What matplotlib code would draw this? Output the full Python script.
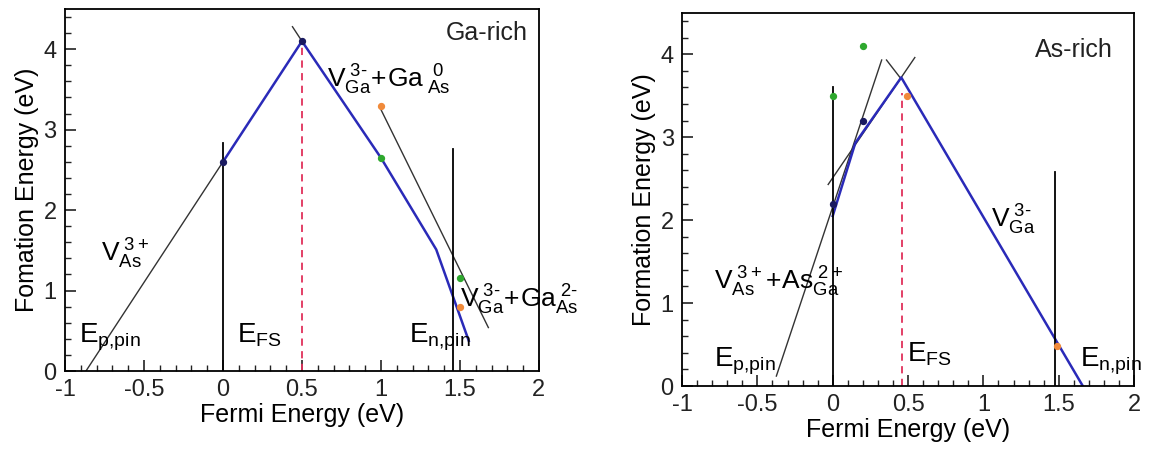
import matplotlib
matplotlib.use("Agg")
import matplotlib.pyplot as plt
from matplotlib.ticker import MultipleLocator

plt.rcParams['font.family'] = ['Liberation Sans', 'DejaVu Sans']
plt.rcParams['mathtext.fontset'] = 'custom'
plt.rcParams['mathtext.rm'] = 'Liberation Sans'
plt.rcParams['mathtext.it'] = 'Liberation Sans'

# ---------------- Ga-rich data ----------------
ga_blue_x = [0.0, 0.5, 1.0, 1.35, 1.556]
ga_blue_y = [2.6, 4.1, 2.65, 1.51, 0.375]
ga_vas_x = [-0.867, 0.0]
ga_vas_y = [0.0, 2.6]
ga_vga_top_x = [0.44, 0.5]
ga_vga_top_y = [4.28, 4.1]
ga_ga0_x = [0.99, 1.68]
ga_ga0_y = [3.29, 0.54]
ga_dark_x = [0.0, 0.5]
ga_dark_y = [2.6, 4.1]
ga_green_x = [1.0, 1.5]
ga_green_y = [2.65, 1.15]
ga_orange_x = [1.0, 1.5]
ga_orange_y = [3.3, 0.8]
ga_vlines_x = [0.0, 1.454]
ga_vlines_top = [2.83, 2.76]
ga_efs_x = 0.5
ga_efs_top = 4.05

# ---------------- As-rich data ----------------
as_blue_x = [0.0, 0.15, 0.455, 1.66]
as_blue_y = [2.05, 2.93, 3.72, 0.0]
as_line1_x = [-0.374, 0.325]
as_line1_y = [0.12, 3.93]
as_line2_x = [-0.03, 0.545]
as_line2_y = [2.43, 3.96]
as_line3_x = [0.357, 0.455]
as_line3_y = [3.93, 3.70]
as_dark_x = [0.0, 0.2]
as_dark_y = [2.2, 3.2]
as_green_x = [0.0, 0.2]
as_green_y = [3.5, 4.1]
as_orange_x = [0.49, 1.49]
as_orange_y = [3.5, 0.48]
as_vlines_x = [0.0, 1.475]
as_vlines_top = [3.6, 2.58]
as_efs_x = 0.46
as_efs_top = 3.53

xticks = [-1, -0.5, 0, 0.5, 1, 1.5, 2]
xticklabels = ['-1', '-0.5', '0', '0.5', '1', '1.5', '2']
yticks = [0, 1, 2, 3, 4]

fig = plt.figure(figsize=(11.56, 4.55), dpi=100)
ax1 = fig.add_axes([0.0562, 0.1846, 0.410, 0.7956])
ax2 = fig.add_axes([0.590, 0.1516, 0.391, 0.8204])

blue = '#2a2ab8'
green = '#2ea82e'
orange = '#f08a3a'
red = '#e0305a'

def style(ax, ylabel):
    ax.set_xlim(-1, 2)
    ax.set_ylim(0, 4.5)
    ax.set_xticks(xticks)
    ax.set_xticklabels(xticklabels)
    ax.set_yticks(yticks)
    ax.xaxis.set_minor_locator(MultipleLocator(0.1))
    ax.yaxis.set_minor_locator(MultipleLocator(0.2))
    ax.tick_params(which='both', direction='in', top=False, right=False, labelsize=17, colors='#222222')
    ax.tick_params(which='major', length=8, width=1.2)
    ax.tick_params(axis='x', which='major', pad=6)
    ax.tick_params(axis='y', which='major', pad=6)
    ax.tick_params(which='minor', length=4, width=1.0)
    for s in ax.spines.values():
        s.set_linewidth(1.3)
    ax.set_xlabel('Fermi Energy (eV)', fontsize=18, labelpad=1)
    ax.set_ylabel(ylabel, fontsize=18, labelpad=3)

H = r'\text{-}'
FS = 19

# ---- Left panel ----
ax = ax1
ax.plot(ga_vas_x, ga_vas_y, color='#333333', lw=1.0)
ax.plot(ga_vga_top_x, ga_vga_top_y, color='#333333', lw=1.0)
ax.plot(ga_ga0_x, ga_ga0_y, color='#333333', lw=1.0)
ax.plot(ga_blue_x, ga_blue_y, color=blue, lw=1.8)
for x, t in zip(ga_vlines_x, ga_vlines_top):
    ax.plot([x, x], [0, t], color='black', lw=1.3)
ax.plot([ga_efs_x, ga_efs_x], [0, ga_efs_top], color=red, lw=1.3, ls=(0, (4, 3)))
ax.scatter(ga_orange_x, ga_orange_y, color=orange, s=18, zorder=5)
ax.scatter(ga_green_x, ga_green_y, color=green, s=18, zorder=5)
ax.scatter(ga_dark_x, ga_dark_y, color='#1a1a60', s=18, zorder=5)
ax.text(1.41, 4.2, 'Ga-rich', fontsize=18, va='center', color='#222222')
ax.text(0.66, 3.62, r'$\mathregular{V_{Ga}^{\ 3' + H + r'}\!+\!Ga_{\ As}^{\ \ 0}}$', fontsize=FS, va='center')
ax.text(-0.77, 1.45, r'$\mathregular{V_{As}^{\ 3+}}$', fontsize=FS, va='center')
ax.text(1.50, 0.88, r'$\mathregular{V_{Ga}^{\ 3' + H + r'}\!+\!Ga_{As}^{\ 2' + H + r'}}$', fontsize=FS, va='center', clip_on=False)
ax.text(-0.91, 0.42, r'$\mathregular{E_{p{,}pin}}$', fontsize=20, va='center')
ax.text(0.09, 0.45, r'$\mathregular{E_{FS}}$', fontsize=20, va='center')
ax.text(1.18, 0.42, r'$\mathregular{E_{n{,}pin}}$', fontsize=20, va='center')
style(ax, 'Fomation Energy (eV)')

# ---- Right panel ----
ax = ax2
ax.plot(as_line1_x, as_line1_y, color='#333333', lw=1.0)
ax.plot(as_line2_x, as_line2_y, color='#333333', lw=1.0)
ax.plot(as_line3_x, as_line3_y, color='#333333', lw=1.0)
ax.plot(as_blue_x, as_blue_y, color=blue, lw=1.8)
for x, t in zip(as_vlines_x, as_vlines_top):
    ax.plot([x, x], [0, t], color='black', lw=1.3)
ax.plot([as_efs_x, as_efs_x], [0, as_efs_top], color=red, lw=1.3, ls=(0, (4, 3)))
ax.scatter(as_orange_x, as_orange_y, color=orange, s=18, zorder=5)
ax.scatter(as_green_x, as_green_y, color=green, s=18, zorder=5)
ax.scatter(as_dark_x, as_dark_y, color='#1a1a60', s=18, zorder=5)
ax.text(1.34, 4.05, 'As-rich', fontsize=18, va='center', color='#222222')
ax.text(1.05, 2.0, r'$\mathregular{V_{Ga}^{\ 3' + H + r'}}$', fontsize=FS, va='center')
ax.text(-0.79, 1.25, r'$\mathregular{V_{As}^{\ 3+}\!+\!As_{Ga}^{\ 2+}}$', fontsize=FS, va='center')
ax.text(-0.79, 0.3, r'$\mathregular{E_{p{,}pin}}$', fontsize=20, va='center')
ax.text(0.49, 0.38, r'$\mathregular{E_{FS}}$', fontsize=20, va='center')
ax.text(1.64, 0.3, r'$\mathregular{E_{n{,}pin}}$', fontsize=20, va='center', clip_on=False)
style(ax, 'Formation Energy (eV)')

fig.savefig('out.png', dpi=100)
